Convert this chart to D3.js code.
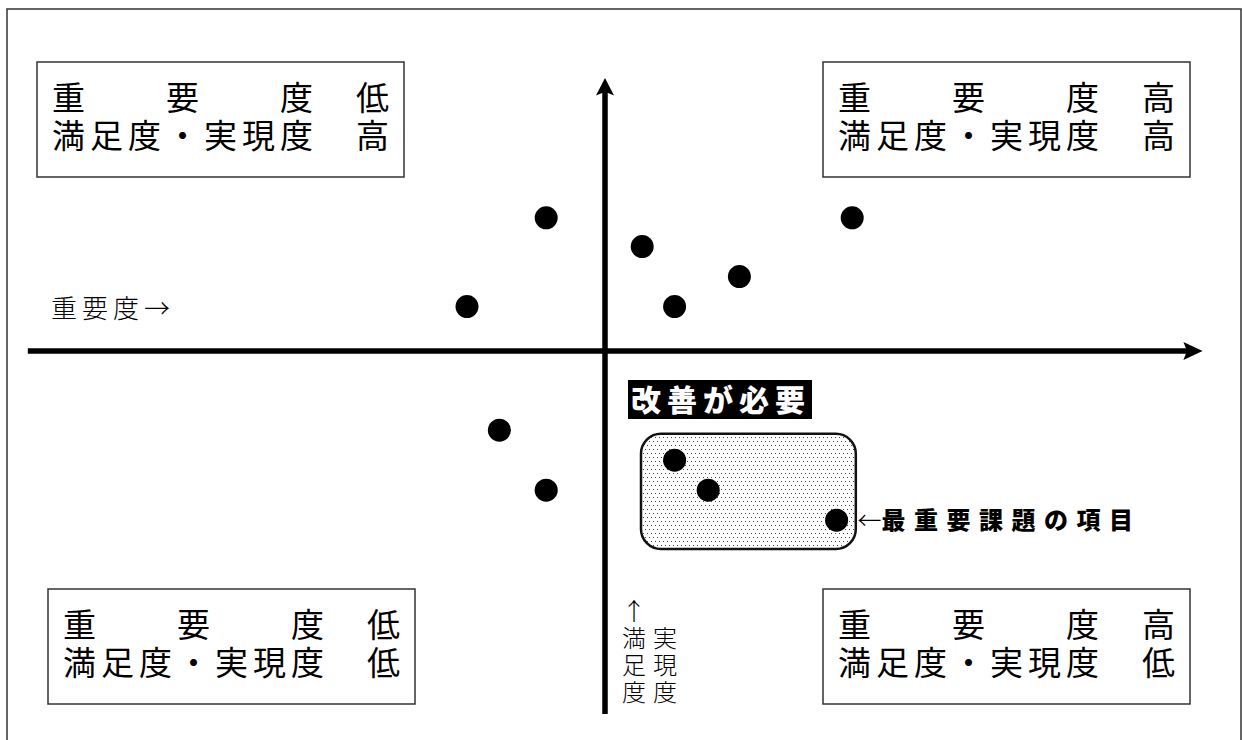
<!DOCTYPE html>
<html>
<head>
<meta charset="utf-8">
<script src="https://cdn.jsdelivr.net/npm/d3@7"></script>
<style>
  body { margin: 0; background: #fff; }
  svg { display: block; font-family: "Noto Sans CJK JP", "Noto Sans", sans-serif; }
  .vlabel { writing-mode: vertical-rl; text-orientation: upright; }
</style>
</head>
<body>
<div id="chart"></div>
<script>
var svgWidth = 1242;
var svgHeight = 740;

// importance (x) and satisfaction (y) of each item, arbitrary units, 0 = axis
var importance   = [-4.9, 20.6, 3.1, 11.2, -11.5, 5.8, -8.8, -4.9, 5.8, 8.6, 19.3];
var satisfaction = [11.1, 11.1, 8.7, 6.2, 3.7, 3.7, -6.6, -11.6, -9.1, -11.6, -14.1];

// area of items needing improvement
var zoneX = [3.0, 20.9];
var zoneY = [-6.9, -16.5];

// quadrant label lines: top-left, top-right, bottom-left, bottom-right
var quadLine1 = ["重　　要　　度　低", "重　　要　　度　高", "重　　要　　度　低", "重　　要　　度　高"];
var quadLine2 = ["満足度・実現度　高", "満足度・実現度　高", "満足度・実現度　低", "満足度・実現度　低"];

var xAxisLabel = "重要度→";
var yAxisCols = ["↑満足度", "　実現度"];
var zoneTitle = "改善が必要";
var keyItemLabel = "最重要課題の項目";

var xScale = d3.scaleLinear().domain([-50, 50]).range([5, 1205]);
var yScale = d3.scaleLinear().domain([-30, 30]).range([711, -9]);

var svg = d3.select("#chart")
  .append("svg")
  .attr("width", svgWidth)
  .attr("height", svgHeight);

var defs = svg.append("defs");
var pat = defs.append("pattern")
  .attr("id", "dots")
  .attr("patternUnits", "userSpaceOnUse")
  .attr("width", 4)
  .attr("height", 8);
pat.append("rect").attr("x", 1).attr("y", 1).attr("width", 1).attr("height", 1).attr("fill", "#444");
pat.append("rect").attr("x", 3).attr("y", 5).attr("width", 1).attr("height", 1).attr("fill", "#444");

svg.append("rect")
  .attr("width", svgWidth).attr("height", svgHeight)
  .attr("fill", "#fff");

// outer frame
svg.append("rect")
  .attr("x", 7).attr("y", 9)
  .attr("width", 1234).attr("height", 780)
  .attr("fill", "none")
  .attr("stroke", "#333")
  .attr("stroke-width", 1.5);

// quadrant boxes
var boxes = [
  {x: 37, y: 62},
  {x: 823, y: 62},
  {x: 48, y: 589},
  {x: 823, y: 589}
];
boxes.forEach(function(b, i) {
  var g = svg.append("g").attr("transform", `translate(${b.x}, ${b.y})`);
  g.append("rect")
    .attr("width", 367).attr("height", 115)
    .attr("fill", "#fff")
    .attr("stroke", "#333")
    .attr("stroke-width", 1.5);
  g.append("text")
    .attr("x", 15).attr("y", 48)
    .attr("font-size", 33)
    .attr("letter-spacing", 5)
    .text(quadLine1[i]);
  g.append("text")
    .attr("x", 15).attr("y", 86)
    .attr("font-size", 33)
    .attr("letter-spacing", 5)
    .text(quadLine2[i]);
});

// priority zone
svg.append("rect")
  .attr("x", xScale(zoneX[0]))
  .attr("y", yScale(zoneY[0]))
  .attr("width", xScale(zoneX[1]) - xScale(zoneX[0]))
  .attr("height", yScale(zoneY[1]) - yScale(zoneY[0]))
  .attr("rx", 20).attr("ry", 20)
  .attr("fill", "url(#dots)")
  .attr("stroke", "#111")
  .attr("stroke-width", 2.5);

// axes
var x0 = xScale(0), y0 = yScale(0);
svg.append("line")
  .attr("x1", xScale(-48.1)).attr("x2", xScale(48.7))
  .attr("y1", y0).attr("y2", y0)
  .attr("stroke", "#000").attr("stroke-width", 5.5);
svg.append("path")
  .attr("d", `M${xScale(49.8)},${y0} L${xScale(48.2)},${y0 - 9} L${xScale(48.5)},${y0} L${xScale(48.2)},${y0 + 9} Z`)
  .attr("fill", "#000");

svg.append("line")
  .attr("x1", x0).attr("x2", x0)
  .attr("y1", yScale(21.6)).attr("y2", yScale(-30.25))
  .attr("stroke", "#000").attr("stroke-width", 5.5);
svg.append("path")
  .attr("d", `M${x0},${yScale(22.75)} L${x0 + 9},${yScale(21.3)} L${x0},${yScale(21.6)} L${x0 - 9},${yScale(21.3)} Z`)
  .attr("fill", "#000");

// axis labels
svg.append("text")
  .attr("x", 51).attr("y", 318)
  .attr("font-size", 26)
  .attr("font-weight", 300)
  .attr("letter-spacing", 5)
  .text(xAxisLabel);

// vertical label, two upright columns
yAxisCols.forEach(function(col, c) {
  svg.append("text")
    .attr("class", "vlabel")
    .attr("x", 634 + c * 31)
    .attr("y", 599)
    .attr("font-size", 24)
    .attr("font-weight", 300)
    .attr("letter-spacing", 3)
    .text(col);
});

// zone title
svg.append("rect")
  .attr("x", 628).attr("y", 380)
  .attr("width", 184).attr("height", 39)
  .attr("fill", "#000");
svg.append("text")
  .attr("x", 631).attr("y", 411)
  .attr("font-size", 30)
  .attr("font-weight", 900)
  .attr("letter-spacing", 6)
  .attr("fill", "#fff")
  .text(zoneTitle);

// points
svg.selectAll("circle.pt")
  .data(importance)
  .enter()
  .append("circle")
  .attr("class", "pt")
  .attr("cx", d => xScale(d))
  .attr("cy", (d, i) => yScale(satisfaction[i]))
  .attr("r", 11.5)
  .attr("fill", "#000");

// key item callout
var keyIdx = 10;
var kt = svg.append("text")
  .attr("x", xScale(importance[keyIdx]) + 21)
  .attr("y", yScale(satisfaction[keyIdx]) + 9);
kt.append("tspan")
  .attr("font-size", 24)
  .attr("font-weight", 300)
  .text("←");
kt.append("tspan")
  .attr("font-size", 24)
  .attr("font-weight", 900)
  .attr("letter-spacing", 8.5)
  .text(keyItemLabel);
</script>
</body>
</html>
